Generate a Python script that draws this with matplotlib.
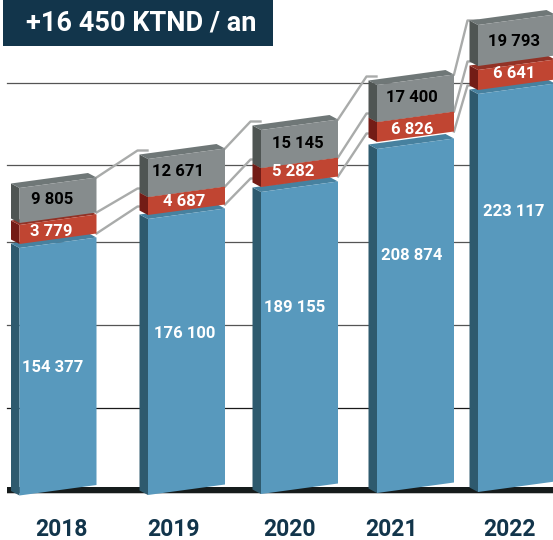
import matplotlib
matplotlib.use("Agg")
import matplotlib.pyplot as plt
from matplotlib.patches import Polygon, Rectangle

years = ["2018", "2019", "2020", "2021", "2022"]
gray_labels = ["9 805", "12 671", "15 145", "17 400", "19 793"]
red_labels = ["3 779", "4 687", "5 282", "6 826", "6 641"]
blue_labels = ["154 377", "176 100", "189 155", "208 874", "223 117"]
banner = "+16 450 KTND / an"

# the artwork is not to scale, so the drawn heights are read off the picture
blue_base = [0.5, 1, 2, 3, 4]
blue_top = [248, 277, 304, 347, 402]
red_base = [252, 281, 309, 354, 406]
red_top = [271, 299, 328, 374, 426]
gray_base = [273, 299, 328, 374, 430]
gray_top = [308, 337, 366, 411, 471]
grid_levels = [413, 331, 254, 171, 88]

# layout
bar_x = [19.5, 148, 261, 377, 478]
bar_w = 77
rise = 10.5
dx, dy = 8.5, 4.5
conn_lift = [4, 4, 4, 0]
gray_x = [52, 178, 298, 412, 514]
red_x = [51, 184, 293, 412, 514]
blue_x = [53, 185, 295, 412, 514]
gray_y = [296, 325, 353, 398, 455]
red_y = [265, 294, 325, 367, 422]
blue_y = [128, 162, 188, 240, 284]
year_x = [61, 173, 290, 392, 510]
navy = "#12354b"
line_gray = "#a9abaa"
blue_cols = ("#5899bd", "#2e5a6e", "#47819f")
red_cols = ("#c04532", "#731c16", "#923226")
gray_cols = ("#868c8d", "#4f5553", "#6f7777")

plt.rcParams["font.family"] = ["Roboto", "DejaVu Sans"]
plt.rcParams["font.weight"] = "bold"


def box(ax, x, y0, y1, cols):
    ax.add_patch(Polygon([(x - dx, y0 + dy), (x, y0), (x, y1), (x - dx, y1 + dy)], fc=cols[1], ec="none", zorder=4))
    ax.add_patch(Polygon([(x, y1), (x + bar_w, y1 + rise), (x + bar_w - dx, y1 + rise + dy), (x - dx, y1 + dy)],
                         fc=cols[2], ec="none", zorder=4))
    ax.add_patch(Polygon([(x, y0), (x + bar_w, y0 + rise), (x + bar_w, y1 + rise), (x, y1)], fc=cols[0], ec="none", zorder=4))


fig = plt.figure(figsize=(5.53, 5.40), dpi=100)
ax = fig.add_axes([0, 0, 1, 1])
ax.set_xlim(0, 553)
ax.set_ylim(-44, 496)
ax.axis("off")

for level in grid_levels:
    color = "#1a1a1a" if level == grid_levels[-1] else "#555555"
    ax.plot([7, 553], [level, level], color=color, lw=0.9, zorder=1)
ax.add_patch(Rectangle((7, 2), 546, 7, fc="#161c1c", ec="none", zorder=1))
ax.plot([7, 553], [3.5, 3.5], color="#c8c8c8", lw=0.7, zorder=1)

for i in range(len(years) - 1):
    x0 = bar_x[i] + bar_w
    x1 = bar_x[i + 1] - dx
    starts = [gray_top[i], gray_base[i], red_base[i]]
    ends = [gray_top[i + 1], gray_base[i + 1], red_base[i + 1]]
    for s, e in zip(starts, ends):
        y1 = e + dy + conn_lift[i]
        ax.plot([x0, x1 - 2, x1 + 8], [s + rise, y1, y1], color=line_gray, lw=1.7, zorder=2)

for i in range(len(years)):
    box(ax, bar_x[i], blue_base[i], blue_top[i], blue_cols)
    box(ax, bar_x[i], red_base[i], red_top[i], red_cols)
    box(ax, bar_x[i], gray_base[i], gray_top[i], gray_cols)
    ax.text(gray_x[i], gray_y[i], gray_labels[i], color="black", fontsize=12, ha="center", va="center", zorder=5)
    ax.text(red_x[i], red_y[i], red_labels[i], color="white", fontsize=12, ha="center", va="center", zorder=5)
    ax.text(blue_x[i], blue_y[i], blue_labels[i], color="white", fontsize=12, ha="center", va="center", zorder=5)
    ax.text(year_x[i], -33, years[i], color=navy, fontsize=16.5, ha="center", va="center")

ax.add_patch(Rectangle((3, 450), 270, 46, fc=navy, ec="none", zorder=6))
ax.text(141, 473, banner, color="white", fontsize=19.5, ha="center", va="center", zorder=7)

plt.savefig("out.png", dpi=100)
plt.close()
